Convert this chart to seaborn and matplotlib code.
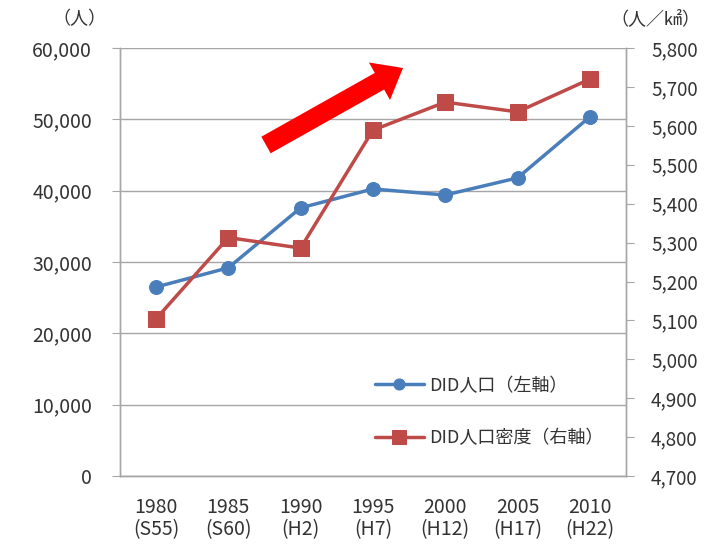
import matplotlib
matplotlib.use('Agg')
import matplotlib.pyplot as plt
from matplotlib.patches import FancyArrow
from matplotlib.transforms import IdentityTransform
import seaborn as sns
import pandas as pd
import numpy as np

# data
years = ['1980', '1985', '1990', '1995', '2000', '2005', '2010']
eras = ['(S55)', '(S60)', '(H2)', '(H7)', '(H12)', '(H17)', '(H22)']
did_pop = [26500, 29200, 37600, 40250, 39400, 41800, 50350]
did_density = [5104, 5313, 5286, 5589, 5661, 5636, 5720]

left_ticks = [0, 10000, 20000, 30000, 40000, 50000, 60000]
right_ticks = [4700, 4800, 4900, 5000, 5100, 5200, 5300, 5400, 5500, 5600, 5700, 5800]

BLUE = '#4a7ebb'
RED = '#be4b48'
GRID = '#a6a6a6'
TEXT = '#333333'

sns.set_style('white')
plt.rcParams['font.family'] = ['Noto Sans CJK JP', 'DejaVu Sans']

df = pd.DataFrame({
    'pos': np.arange(len(years)),
    'pop': did_pop,
    'density': did_density,
})

fig = plt.figure(figsize=(7.22, 5.46), dpi=100)
ax = fig.add_axes([0.166, 0.128, 0.701, 0.784])
ax2 = ax.twinx()

sns.lineplot(data=df, x='pos', y='pop', ax=ax, color=BLUE, linewidth=2.5,
             marker='o', markersize=10, markeredgecolor=BLUE, label='DID人口（左軸）',
             legend=False, zorder=3)
sns.lineplot(data=df, x='pos', y='density', ax=ax2, color=RED, linewidth=2.5,
             marker='s', markersize=12, markeredgecolor=RED, label='DID人口密度（右軸）',
             legend=False, zorder=3)

# left axis
ax.set_ylim(0, 60000)
ax.set_yticks(left_ticks)
ax.set_yticklabels([f'{v:,}' for v in left_ticks])
ax.yaxis.grid(True, color=GRID, linewidth=1)
ax.set_axisbelow(True)

# right axis
ax2.set_ylim(4700, 5800)
ax2.set_yticks(right_ticks)
ax2.set_yticklabels([f'{v:,}' for v in right_ticks])

# category x axis
ax.set_xlim(-0.5, len(years) - 0.5)
ax.set_xticks(np.arange(len(years)))
ax.set_xticklabels([f'{y}\n{e}' for y, e in zip(years, eras)], linespacing=1.1)
ax.set_xticks(np.arange(len(years) + 1) - 0.5, minor=True)
ax.tick_params(axis='x', which='major', length=0, pad=15, labelsize=14, colors=TEXT)
ax.tick_params(axis='x', which='minor', length=6, color=GRID, direction='out')
ax.tick_params(axis='y', length=6, color=GRID, direction='out', labelsize=14,
               colors=TEXT, pad=14)
ax2.tick_params(axis='y', length=6, color=GRID, direction='out', labelsize=13.5,
                colors=TEXT, pad=12)
for t in ax.get_yticklabels() + ax2.get_yticklabels():
    t.set_color(TEXT)
ax.set_xlabel('')
ax.set_ylabel('')
ax2.set_ylabel('')

for a in (ax, ax2):
    a.spines['top'].set_visible(False)
    for s in ('left', 'right', 'bottom'):
        a.spines[s].set_color(GRID)
        a.spines[s].set_linewidth(1)

# unit labels
fig.text(0.11, 0.965, '（人）', ha='center', va='center', fontsize=13, color=TEXT)
fig.text(0.908, 0.965, '（人／㎢）', ha='center', va='center', fontsize=13, color=TEXT)

# legend
h1, l1 = ax.get_legend_handles_labels()
h2, l2 = ax2.get_legend_handles_labels()
leg = fig.legend(h1 + h2, l1 + l2, loc='upper left', bbox_to_anchor=(0.497, 0.34),
                 frameon=False, fontsize=13, labelspacing=1.9, handlelength=2.7,
                 handletextpad=0.3, labelcolor=TEXT)
leg.legend_handles[0].set_markersize(8)
leg.legend_handles[1].set_markersize(10)

# red trend arrow (pixel coordinates, origin bottom-left)
H = 546
tail = (266, H - 145)
tip = (403, H - 68)
fig.patches.append(FancyArrow(
    tail[0], tail[1], tip[0] - tail[0], tip[1] - tail[1], width=19,
    head_width=43, head_length=27, length_includes_head=True,
    transform=IdentityTransform(), color='#ff0000', linewidth=0, zorder=10))

fig.savefig('out.png', dpi=100)
